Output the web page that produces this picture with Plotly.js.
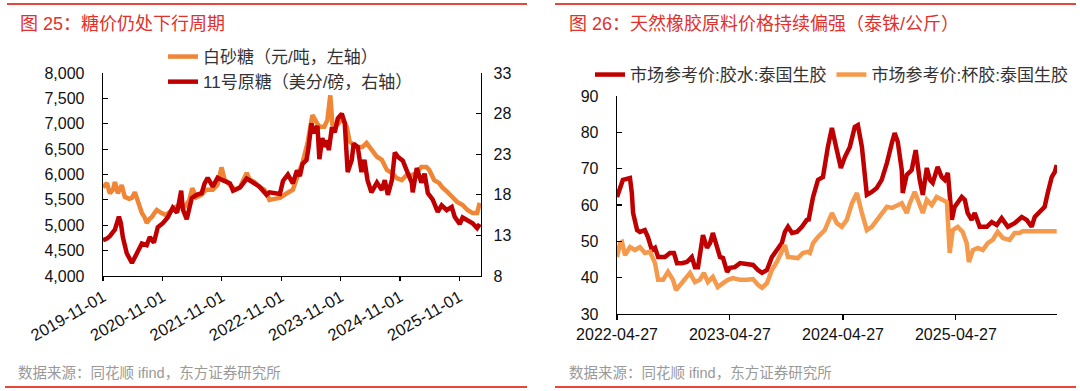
<!DOCTYPE html>
<html>
<head>
<meta charset="utf-8">
<script src="https://cdn.plot.ly/plotly-3.0.1.min.js"></script>
<style>html,body{margin:0;padding:0;background:#fff;}#chart{width:1080px;height:391px;}</style>
</head>
<body>
<div id="chart"></div>
<script>
// ---------- Figure 25: sugar ----------
const whiteSugarDates = ['2019-11-01','2019-11-25','2019-12-13','2020-01-01','2020-01-13','2020-01-31','2020-02-24','2020-03-14','2020-04-09','2020-04-27','2020-05-15','2020-06-03','2020-06-27','2020-07-15','2020-07-27','2020-08-15','2020-08-27','2020-09-15','2020-09-27','2020-10-27','2020-11-21','2020-12-15','2021-01-15','2021-02-15','2021-03-15','2021-04-15','2021-05-03','2021-05-27','2021-06-27','2021-07-27','2021-09-06','2021-10-06','2021-10-30','2021-11-18','2021-12-21','2022-01-21','2022-02-21','2022-04-03','2022-04-21','2022-05-21','2022-06-21','2022-07-21','2022-08-03','2022-08-21','2022-09-21','2022-10-24','2022-12-06','2023-01-12','2023-02-12','2023-03-12','2023-04-12','2023-05-12','2023-06-06','2023-06-24','2023-07-24','2023-08-12','2023-08-30','2023-09-12','2023-10-15','2023-11-15','2023-12-09','2023-12-27','2024-02-09','2024-03-15','2024-04-09','2024-05-09','2024-06-12','2024-07-12','2024-08-12','2024-09-12','2024-10-12','2024-11-12','2024-12-12','2025-01-12','2025-02-12','2025-03-12','2025-04-12','2025-04-30','2025-05-30','2025-06-30','2025-07-18','2025-08-18','2025-09-18','2025-10-18','2025-11-21','2025-12-21','2026-01-21','2026-02-18','2026-03-06'];
const whiteSugar = [5750,5830,5630,5700,5850,5630,5790,5560,5520,5540,5650,5440,5240,5150,5045,5130,5160,5250,5300,5240,5200,5260,5350,5400,5350,5500,5730,5550,5600,5700,5700,5800,6140,5900,5790,5700,5750,6030,5900,5850,5750,5700,5630,5500,5520,5540,5630,5700,5990,6230,6620,7170,7030,6940,6940,7070,7560,6990,6990,7110,6940,6650,6540,6540,6620,6480,6350,6290,6090,6030,5930,5890,5990,5990,6030,6150,6150,6090,5890,5830,5750,5660,5560,5460,5400,5300,5240,5240,5440];

const rawSugarDates = ['2019-11-01','2019-11-25','2019-12-13','2020-01-13','2020-02-07','2020-02-19','2020-03-02','2020-03-26','2020-04-27','2020-05-15','2020-05-27','2020-06-27','2020-07-27','2020-08-15','2020-09-09','2020-10-03','2020-11-03','2020-12-03','2021-01-03','2021-01-30','2021-02-24','2021-03-06','2021-03-30','2021-04-30','2021-05-30','2021-06-30','2021-07-18','2021-08-06','2021-09-06','2021-10-06','2021-11-06','2021-12-21','2022-01-09','2022-02-21','2022-04-03','2022-05-09','2022-06-21','2022-08-03','2022-08-21','2022-10-24','2022-11-12','2022-12-12','2023-01-12','2023-02-06','2023-02-24','2023-03-12','2023-04-06','2023-04-18','2023-05-06','2023-05-24','2023-06-12','2023-06-24','2023-07-12','2023-07-24','2023-08-09','2023-08-21','2023-09-09','2023-09-27','2023-10-15','2023-11-09','2023-11-27','2023-12-15','2024-01-09','2024-01-21','2024-02-15','2024-03-09','2024-03-27','2024-04-15','2024-05-09','2024-06-12','2024-07-12','2024-07-30','2024-08-18','2024-09-12','2024-09-30','2024-10-18','2024-11-18','2024-12-18','2025-01-12','2025-01-18','2025-02-12','2025-03-12','2025-04-01','2025-04-21','2025-05-21','2025-06-21','2025-07-15','2025-08-15','2025-09-15','2025-10-03','2025-11-03','2025-11-21','2025-12-21','2026-01-21','2026-02-18','2026-03-06'];
const rawSugar = [12.4,12.6,12.9,13.7,15.3,14.5,12.8,10.8,9.6,10.3,10.8,12.0,11.8,12.8,12.1,14.0,14.5,15.2,16.4,15.8,18.5,16.2,15.0,17.6,18.0,18.2,19.4,20.1,19.0,20.1,19.8,19.4,18.5,18.9,20.0,19.6,19.0,18.0,18.3,18.1,19.7,20.5,19.4,21.0,20.3,21.8,22.3,23.8,26.8,25.6,26.5,22.4,25.0,23.9,24.7,23.5,26.3,25.7,27.4,28.0,26.8,20.8,22.3,24.3,23.9,20.8,22.3,19.8,18.3,19.5,18.6,19.8,18.0,19.8,23.2,22.7,22.2,20.7,19.5,18.3,21.3,19.5,20.6,18.2,17.4,15.9,16.7,16.1,16.5,15.3,14.4,15.2,14.9,14.5,13.9,14.4];

const sugarTickVals = ['2019-11-01','2020-11-01','2021-11-01','2022-11-01','2023-11-01','2024-11-01','2025-11-01'];
const sugarTickText = ['2019-11-01','2020-11-01','2021-11-01','2022-11-01','2023-11-01','2024-11-01','2025-11-01'];
const sugarNames = ['白砂糖（元/吨，左轴）','11号原糖（美分/磅，右轴）'];

// ---------- Figure 26: rubber ----------
const latexDates = ['2022-04-27','2022-05-07','2022-05-16','2022-06-08','2022-06-14','2022-06-18','2022-07-01','2022-07-10','2022-07-26','2022-08-05','2022-08-18','2022-08-28','2022-09-07','2022-09-29','2022-10-15','2022-10-28','2022-11-07','2022-11-23','2022-12-09','2022-12-25','2023-01-04','2023-01-14','2023-01-30','2023-02-12','2023-02-22','2023-03-03','2023-03-16','2023-03-26','2023-04-05','2023-04-18','2023-04-27','2023-05-13','2023-05-30','2023-06-21','2023-07-11','2023-07-27','2023-08-09','2023-08-25','2023-09-10','2023-09-26','2023-10-12','2023-10-22','2023-11-01','2023-11-14','2023-11-30','2023-12-16','2024-01-01','2024-01-07','2024-01-17','2024-01-21','2024-02-06','2024-02-22','2024-03-09','2024-03-22','2024-04-07','2024-04-20','2024-05-03','2024-05-19','2024-06-04','2024-06-14','2024-06-27','2024-07-07','2024-07-13','2024-07-29','2024-08-14','2024-08-30','2024-09-16','2024-10-02','2024-10-11','2024-10-21','2024-11-03','2024-11-06','2024-11-19','2024-12-05','2024-12-18','2024-12-31','2025-01-10','2025-01-23','2025-02-02','2025-02-11','2025-02-27','2025-03-12','2025-03-22','2025-04-01','2025-04-14','2025-04-23','2025-05-03','2025-05-16','2025-05-26','2025-06-04','2025-06-17','2025-06-27','2025-07-13','2025-08-05','2025-08-21','2025-09-06','2025-09-22','2025-10-12','2025-11-03','2025-11-26','2025-12-12','2025-12-28','2026-01-07','2026-01-23','2026-02-08','2026-02-18','2026-03-03','2026-03-13','2026-03-19'];
const latex = [62.2,65.0,66.9,67.4,63.3,57.8,53.1,52.6,53.1,51.2,47.6,48.2,45.7,45.7,46.8,46.8,44.0,44.0,44.3,45.7,42.9,42.9,51.7,48.2,49.5,52.3,48.4,45.7,45.4,41.6,42.7,42.9,44.0,43.8,43.5,42.1,41.3,42.1,45.7,47.6,49.5,52.6,54.0,52.3,52.6,54.0,55.9,56.0,61.0,62.2,66.9,67.7,76.0,81.2,75.1,70.2,73.2,76.0,81.5,82.0,76.0,68.8,62.8,63.6,64.7,66.9,71.6,77.1,79.8,77.4,69.6,63.3,68.3,69.6,75.1,66.9,62.8,70.2,66.9,66.1,70.5,67.7,66.9,68.8,55.9,59.5,60.5,62.2,61.4,57.8,55.9,57.8,54.0,54.0,55.3,54.5,56.4,54.0,55.0,56.7,55.9,54.0,56.7,58.1,59.5,63.3,67.7,69.1,71.0];

const cupDates = ['2022-04-27','2022-05-07','2022-05-13','2022-05-23','2022-06-08','2022-06-24','2022-07-10','2022-07-26','2022-08-12','2022-08-28','2022-09-07','2022-09-23','2022-10-09','2022-10-25','2022-11-04','2022-11-17','2022-12-03','2022-12-19','2023-01-04','2023-01-20','2023-02-02','2023-02-15','2023-03-03','2023-03-19','2023-04-05','2023-04-21','2023-05-07','2023-05-30','2023-06-21','2023-07-11','2023-07-27','2023-08-09','2023-08-25','2023-09-10','2023-09-26','2023-10-12','2023-10-22','2023-11-01','2023-11-17','2023-12-03','2023-12-19','2024-01-04','2024-01-11','2024-01-21','2024-02-06','2024-02-28','2024-03-22','2024-04-07','2024-04-23','2024-05-09','2024-05-26','2024-06-11','2024-06-27','2024-07-13','2024-07-29','2024-08-14','2024-08-30','2024-09-16','2024-10-02','2024-10-18','2024-11-03','2024-11-19','2024-11-29','2024-12-15','2024-12-25','2025-01-10','2025-01-23','2025-02-08','2025-02-24','2025-03-12','2025-03-29','2025-04-07','2025-04-17','2025-05-03','2025-05-19','2025-06-01','2025-06-08','2025-06-21','2025-07-07','2025-07-23','2025-08-08','2025-08-24','2025-09-09','2025-09-26','2025-10-18','2025-11-03','2025-11-19','2025-11-29','2026-01-23','2026-03-19'];
const cupLump = [45.7,49.5,49.8,46.2,48.4,47.6,48.4,46.8,47.1,44.0,39.4,39.4,41.6,39.4,36.6,38.0,39.4,41.3,38.8,39.4,41.3,38.8,40.2,37.4,38.5,39.4,39.9,39.4,39.4,39.6,38.0,37.2,38.5,42.1,44.3,46.8,49.0,45.7,45.7,45.4,46.8,47.1,46.8,49.5,51.2,53.1,57.8,55.0,54.0,55.9,60.5,63.3,57.8,53.1,54.0,55.9,57.8,59.5,59.2,60.0,60.5,57.8,60.5,63.6,61.4,57.8,61.4,60.0,62.2,61.4,60.8,46.8,53.1,54.0,52.6,49.5,44.3,47.6,48.2,47.6,49.5,50.4,52.6,50.9,50.4,52.3,52.3,52.8,52.8,52.8];

const rubberTickVals = ['2022-04-27','2023-04-27','2024-04-27','2025-04-27'];
const rubberTickText = ['2022-04-27','2023-04-27','2024-04-27','2025-04-27'];
const rubberNames = ['市场参考价:胶水:泰国生胶','市场参考价:杯胶:泰国生胶'];

const titles = ['图 25：糖价仍处下行周期','图 26：天然橡胶原料价格持续偏强（泰铢/公斤）'];
const sourceText = '数据来源：同花顺 ifind，东方证券研究所';

// ---------- styles ----------
const W = 1080, H = 391;
const FONT = '"Liberation Sans", Arial, "Noto Sans CJK SC", sans-serif';
const RED = '#c00000', ORANGE = '#ef8535', ORANGE2 = '#f59a4c', TITLE_RED = '#e2302c', RULE = '#e8453c';
const px = v => v / W, py = v => 1 - v / H;

const traces = [
  {x: whiteSugarDates, y: whiteSugar, name: sugarNames[0], type: 'scatter', mode: 'lines',
   line: {color: ORANGE, width: 4.5}, xaxis: 'x', yaxis: 'y', legend: 'legend'},
  {x: rawSugarDates, y: rawSugar, name: sugarNames[1], type: 'scatter', mode: 'lines',
   line: {color: RED, width: 4.5}, xaxis: 'x', yaxis: 'y3', legend: 'legend'},
  {x: latexDates, y: latex, name: rubberNames[0], type: 'scatter', mode: 'lines',
   line: {color: RED, width: 4.5}, xaxis: 'x2', yaxis: 'y2', legend: 'legend2'},
  {x: cupDates, y: cupLump, name: rubberNames[1], type: 'scatter', mode: 'lines',
   line: {color: ORANGE2, width: 4.5}, xaxis: 'x2', yaxis: 'y2', legend: 'legend2'}
];

const axisCommon = {showgrid: false, zeroline: false, showline: true, linecolor: '#000', linewidth: 1.3,
  tickcolor: '#000', ticklen: 5, tickwidth: 1.2, tickfont: {family: FONT, size: 16, color: '#111'}, fixedrange: true};

const layout = {
  width: W, height: H,
  margin: {l: 0, r: 0, t: 0, b: 0},
  paper_bgcolor: '#fff', plot_bgcolor: '#fff',
  font: {family: FONT, color: '#222'},
  separators: '.,',
  xaxis: Object.assign({}, axisCommon, {
    domain: [px(103), px(481)], anchor: 'y', type: 'date',
    range: ['2019-11-01', '2026-03-14'], tickmode: 'array', tickvals: sugarTickVals, ticktext: sugarTickText,
    ticks: 'outside', ticklen: 4, tickangle: -30, tickfont: {family: FONT, size: 16.5, color: '#111'}
  }),
  yaxis: Object.assign({}, axisCommon, {
    domain: [py(276), py(73)], anchor: 'x', range: [4000, 8000], dtick: 500, tick0: 4000,
    tickformat: ',d', ticks: 'inside', ticklabelstandoff: 14
  }),
  yaxis3: Object.assign({}, axisCommon, {
    overlaying: 'y', side: 'right', anchor: 'x', range: [8, 33], dtick: 5, tick0: 8,
    ticks: 'inside', ticklabelstandoff: 8
  }),
  xaxis2: Object.assign({}, axisCommon, {
    domain: [px(617), px(1057)], anchor: 'y2', type: 'date',
    range: ['2022-04-27', '2026-03-20'], tickmode: 'array', tickvals: rubberTickVals, ticktext: rubberTickText,
    ticks: 'outside', tickangle: 0
  }),
  yaxis2: Object.assign({}, axisCommon, {
    domain: [py(314), py(96)], anchor: 'x2', range: [30, 90], dtick: 10, tick0: 30,
    ticks: 'inside', ticklabelstandoff: 14
  }),
  showlegend: true,
  legend: {x: px(163), y: py(39), xanchor: 'left', yanchor: 'top', orientation: 'v',
    bgcolor: 'rgba(0,0,0,0)', font: {family: FONT, size: 17, color: '#333'}, tracegroupgap: 0, itemclick: false},
  legend2: {x: px(590), y: py(57), xanchor: 'left', yanchor: 'top', orientation: 'h',
    bgcolor: 'rgba(0,0,0,0)', font: {family: FONT, size: 17, color: '#333'}, itemclick: false},
  shapes: [
    {type: 'line', xref: 'paper', yref: 'paper', x0: px(7), x1: px(527), y0: py(4), y1: py(4), line: {color: RULE, width: 2}},
    {type: 'line', xref: 'paper', yref: 'paper', x0: px(555), x1: px(1076), y0: py(4), y1: py(4), line: {color: RULE, width: 2}},
    {type: 'line', xref: 'paper', yref: 'paper', x0: px(5), x1: px(527), y0: py(387), y1: py(387), line: {color: RULE, width: 2}},
    {type: 'line', xref: 'paper', yref: 'paper', x0: px(555), x1: px(1076), y0: py(387), y1: py(387), line: {color: RULE, width: 2}}
  ],
  annotations: [
    {text: titles[0], xref: 'paper', yref: 'paper', x: px(18), y: py(24), xanchor: 'left', yanchor: 'middle',
     showarrow: false, font: {family: FONT, size: 18, color: TITLE_RED}},
    {text: titles[1], xref: 'paper', yref: 'paper', x: px(567), y: py(24), xanchor: 'left', yanchor: 'middle',
     showarrow: false, font: {family: FONT, size: 18, color: TITLE_RED}},
    {text: sourceText, xref: 'paper', yref: 'paper', x: px(16), y: py(373), xanchor: 'left', yanchor: 'middle',
     showarrow: false, font: {family: FONT, size: 14.5, color: '#999'}},
    {text: sourceText, xref: 'paper', yref: 'paper', x: px(567), y: py(373), xanchor: 'left', yanchor: 'middle',
     showarrow: false, font: {family: FONT, size: 14.5, color: '#999'}}
  ]
};

Plotly.newPlot('chart', traces, layout, {displayModeBar: false, staticPlot: true});
</script>
</body>
</html>
